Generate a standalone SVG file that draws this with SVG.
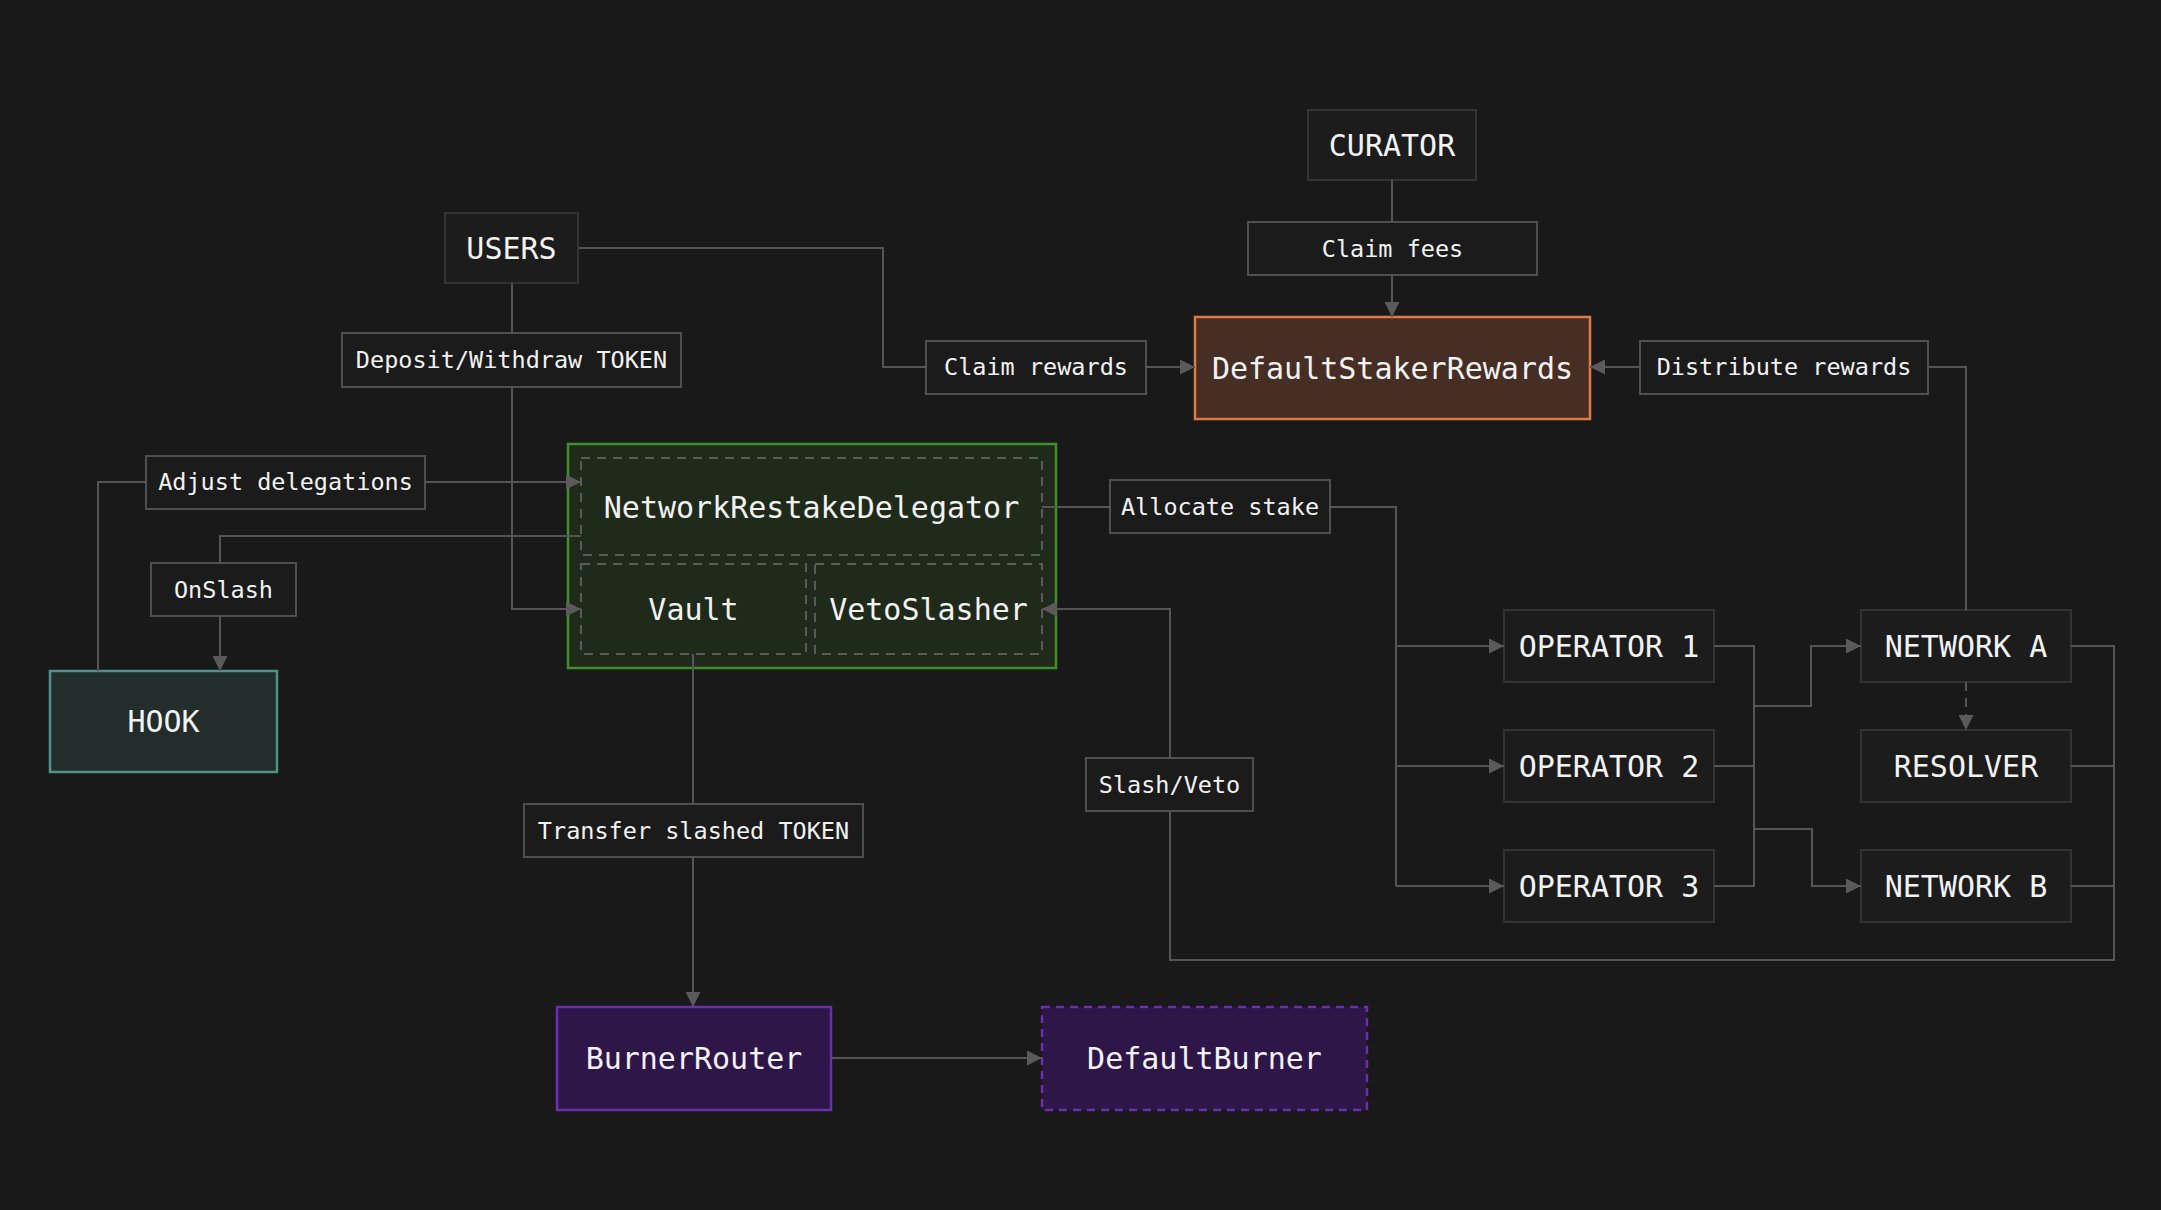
<svg xmlns="http://www.w3.org/2000/svg" width="2161" height="1210" viewBox="0 0 2161 1210">
<style>
.bg{fill:#191919}
.node{fill:#1c1c1c;stroke:#333333;stroke-width:2}
.lbl{fill:#1b1b1b;stroke:#4f4f4f;stroke-width:2}
.inner{fill:none;stroke:#5a5a5a;stroke-width:2;stroke-dasharray:9 7}
.t{font-family:"DejaVu Sans Mono","Liberation Mono",monospace;fill:#f2f2f2;text-anchor:middle;dominant-baseline:central}
.tn{font-size:30px}
.tl{font-size:23.5px}
.c{fill:none;stroke:#555555;stroke-width:2}
.ca{fill:none;stroke:#555555;stroke-width:2;marker-end:url(#arr)}
</style>
<defs>
<marker id="arr" viewBox="0 0 15 15" refX="15" refY="7.5" markerWidth="15" markerHeight="15" orient="auto" markerUnits="userSpaceOnUse">
<path d="M0,0 L15,7.5 L0,15 z" fill="#5a5a5a"/>
</marker>
</defs>
<rect class="bg" x="0" y="0" width="2161" height="1210"/>

<g id="users"><rect class="node" x="445" y="213" width="133" height="70"/><text class="t tn" x="511.5" y="248">USERS</text></g>
<g id="curator"><rect class="node" x="1308" y="110" width="168" height="70"/><text class="t tn" x="1392" y="145">CURATOR</text></g>
<g id="defaultStakerRewards"><rect x="1195" y="317" width="395" height="102" fill="#472e24" stroke="#e07b47" stroke-width="2.5"/><text class="t tn" x="1392.5" y="368">DefaultStakerRewards</text></g>
<g id="hook"><rect x="50" y="671" width="227" height="101" fill="#232e2c" stroke="#4e9288" stroke-width="2.5"/><text class="t tn" x="163.5" y="721.5">HOOK</text></g>

<g id="vaultGroup">
<rect x="568" y="444" width="488" height="224" fill="#1f2a1b" stroke="#40902a" stroke-width="2.5"/>
<g id="networkRestakeDelegator"><rect class="inner" x="581" y="458" width="461" height="97"/><text class="t tn" x="811.5" y="507">NetworkRestakeDelegator</text></g>
<g id="vault"><rect class="inner" x="581" y="564" width="225" height="90"/><text class="t tn" x="693.5" y="609">Vault</text></g>
<g id="vetoSlasher"><rect class="inner" x="815" y="564" width="227" height="90"/><text class="t tn" x="928.5" y="609">VetoSlasher</text></g>
</g>

<g id="operator1"><rect class="node" x="1504" y="610" width="210" height="72"/><text class="t tn" x="1609" y="646">OPERATOR 1</text></g>
<g id="operator2"><rect class="node" x="1504" y="730" width="210" height="72"/><text class="t tn" x="1609" y="766">OPERATOR 2</text></g>
<g id="operator3"><rect class="node" x="1504" y="850" width="210" height="72"/><text class="t tn" x="1609" y="886">OPERATOR 3</text></g>
<g id="networkA"><rect class="node" x="1861" y="610" width="210" height="72"/><text class="t tn" x="1966" y="646">NETWORK A</text></g>
<g id="resolver"><rect class="node" x="1861" y="730" width="210" height="72"/><text class="t tn" x="1966" y="766">RESOLVER</text></g>
<g id="networkB"><rect class="node" x="1861" y="850" width="210" height="72"/><text class="t tn" x="1966" y="886">NETWORK B</text></g>

<g id="burnerRouter"><rect x="557" y="1007" width="274" height="103" fill="#2e1648" stroke="#6a2fb0" stroke-width="2.5"/><text class="t tn" x="694" y="1058">BurnerRouter</text></g>
<g id="defaultBurner"><rect x="1042" y="1007" width="325" height="103" fill="#2e1648" stroke="#6a2fb0" stroke-width="2.5" stroke-dasharray="8 6"/><text class="t tn" x="1204.5" y="1058">DefaultBurner</text></g>

<g id="lbl-deposit"><rect class="lbl" x="342" y="333" width="339" height="54"/><text class="t tl" x="511.5" y="360">Deposit/Withdraw TOKEN</text></g>
<g id="lbl-claimRewards"><rect class="lbl" x="926" y="341" width="220" height="53"/><text class="t tl" x="1036" y="367">Claim rewards</text></g>
<g id="lbl-claimFees"><rect class="lbl" x="1248" y="222" width="289" height="53"/><text class="t tl" x="1392.5" y="248.5">Claim fees</text></g>
<g id="lbl-distribute"><rect class="lbl" x="1640" y="341" width="288" height="53"/><text class="t tl" x="1784" y="367">Distribute rewards</text></g>
<g id="lbl-adjust"><rect class="lbl" x="146" y="456" width="279" height="53"/><text class="t tl" x="285.5" y="482">Adjust delegations</text></g>
<g id="lbl-onslash"><rect class="lbl" x="151" y="563" width="145" height="53"/><text class="t tl" x="223.5" y="589.5">OnSlash</text></g>
<g id="lbl-allocate"><rect class="lbl" x="1110" y="480" width="220" height="53"/><text class="t tl" x="1220" y="506.5">Allocate stake</text></g>
<g id="lbl-slashVeto"><rect class="lbl" x="1086" y="758" width="167" height="53"/><text class="t tl" x="1169.5" y="784.5">Slash/Veto</text></g>
<g id="lbl-transfer"><rect class="lbl" x="524" y="804" width="339" height="53"/><text class="t tl" x="693.5" y="830.5">Transfer slashed TOKEN</text></g>

<g id="connectors">
<path class="c" d="M512,283 V333"/>
<path class="ca" d="M512,387 V609 H581"/>
<path class="c" d="M579,248 H883 V367 H926"/>
<path class="ca" d="M1146,367 H1195"/>
<path class="c" d="M1392,180 V222"/>
<path class="ca" d="M1392,275 V317"/>
<path class="c" d="M1966,610 V367 H1928"/>
<path class="ca" d="M1640,367 H1590"/>
<path class="c" d="M98,671 V482 H146"/>
<path class="ca" d="M425,482 H581"/>
<path class="c" d="M581,536 H220 V563"/>
<path class="ca" d="M220,616 V671"/>
<path class="c" d="M1042,507 H1110"/>
<path class="c" d="M1330,507 H1396 V886"/>
<path class="ca" d="M1396,646 H1504"/>
<path class="ca" d="M1396,766 H1504"/>
<path class="ca" d="M1396,886 H1504"/>
<path class="c" d="M1714,646 H1754 V886 H1714"/>
<path class="c" d="M1714,766 H1754"/>
<path class="ca" d="M1754,706 H1811 V646 H1861"/>
<path class="ca" d="M1754,829 H1812 V886 H1861"/>
<path class="ca" d="M1966,682 V730" stroke-dasharray="9 7"/>
<path class="c" d="M2071,646 H2114 V960 H1170 V811"/>
<path class="c" d="M2071,766 H2114"/>
<path class="c" d="M2071,886 H2114"/>
<path class="ca" d="M1170,758 V609 H1042"/>
<path class="c" d="M693,654 V804"/>
<path class="ca" d="M693,857 V1007"/>
<path class="ca" d="M831,1058 H1042"/>
</g>
</svg>
